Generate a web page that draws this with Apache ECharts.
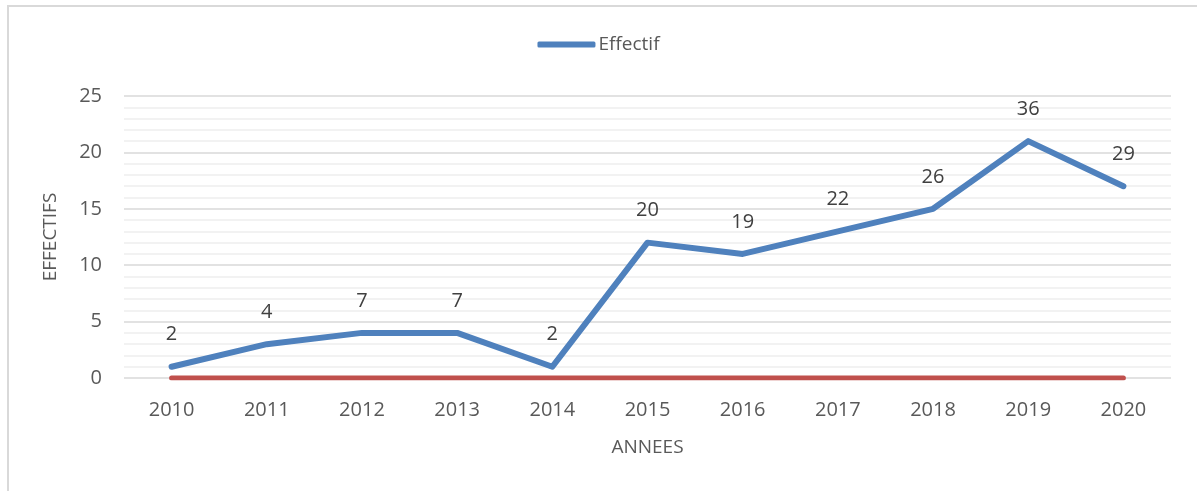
<!DOCTYPE html>
<html><head><meta charset="utf-8">
<script src="https://cdn.jsdelivr.net/npm/echarts@6/dist/echarts.min.js"></script>
<style>html,body{margin:0;padding:0;background:#fff}#c{width:1197px;height:491px}</style>
</head><body><div id="c"></div>
<script>
const years = ['2010','2011','2012','2013','2014','2015','2016','2017','2018','2019','2020'];
const effectif = [1, 3, 4, 4, 1, 12, 11, 13, 15, 21, 17];
const labelsEffectif = ['2','4','7','7','2','20','19','22','26','36','29'];
const baseline = [0, 0, 0, 0, 0, 0, 0, 0, 0, 0, 0];
const yTicks = [0, 5, 10, 15, 20, 25];

const font = '"Open Sans", "Noto Sans", sans-serif';
const chart = echarts.init(document.getElementById('c'));
chart.setOption({
  animation: false,
  textStyle: {fontFamily: font},
  graphic: [{type: 'rect', shape: {x: 8, y: 6, width: 1200, height: 500}, style: {fill: 'none', stroke: '#d9d9d9', lineWidth: 2}}],
  legend: {
    data: ['Effectif'], top: 30, left: 'center',
    itemWidth: 58, itemHeight: 6, itemGap: 4,
    icon: 'roundRect',
    textStyle: {fontSize: 19, color: '#595959', fontFamily: font, padding: [0,0,0,-2]}
  },
  grid: {left: 124, right: 26, top: 96, bottom: 113},
  xAxis: {
    type: 'category', data: years, boundaryGap: true,
    name: 'ANNEES', nameLocation: 'middle', nameGap: 60,
    nameTextStyle: {fontSize: 19, color: '#595959'},
    axisLine: {show: false}, axisTick: {show: false},
    axisLabel: {fontSize: 20, color: '#595959', margin: 22}
  },
  yAxis: {
    type: 'value', min: yTicks[0], max: yTicks[yTicks.length-1], interval: 5,
    name: 'EFFECTIFS', nameLocation: 'middle', nameGap: 64,
    nameTextStyle: {fontSize: 19, color: '#595959'},
    axisLine: {show: false}, axisTick: {show: false},
    axisLabel: {fontSize: 20, color: '#595959', margin: 22},
    splitLine: {lineStyle: {color: '#d9d9d9', width: 1.5}},
    minorTick: {show: false, splitNumber: 5},
    minorSplitLine: {show: true, lineStyle: {color: '#eeeeee', width: 1.5}}
  },
  series: [
    {
      name: 'Base', type: 'line', data: baseline, symbol: 'none',
      lineStyle: {color: '#c0504d', width: 5, cap: 'round'}, itemStyle: {color: '#c0504d'}, z: 2
    },
    {
      name: 'Effectif', type: 'line', data: effectif, symbol: 'circle', symbolSize: 2, showSymbol: true,
      lineStyle: {color: '#4f81bd', width: 6, cap: 'round', join: 'round'}, itemStyle: {color: '#4f81bd'}, z: 3,
      label: {show: true, position: 'top', distance: 21, fontSize: 20, color: '#404040',
        formatter: p => labelsEffectif[p.dataIndex]}
    }
  ]
});
</script></body></html>
